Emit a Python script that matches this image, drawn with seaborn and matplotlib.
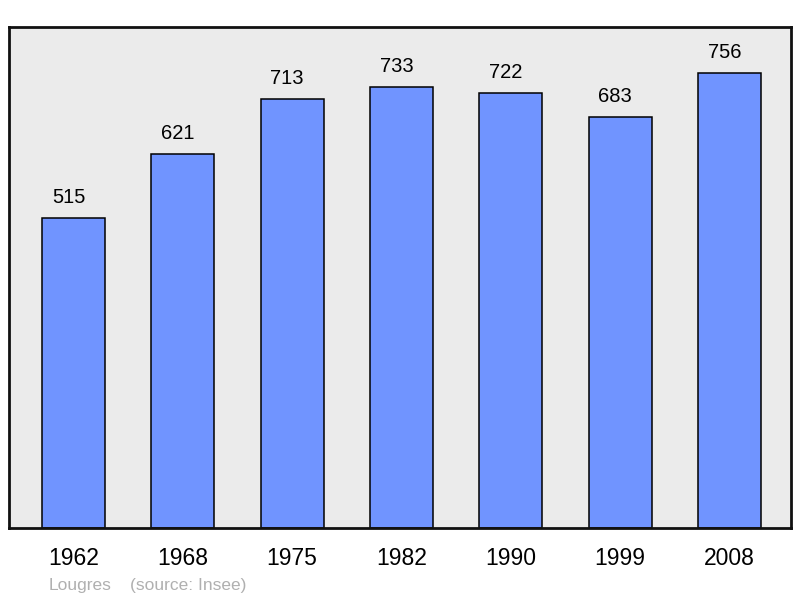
import matplotlib
matplotlib.use("Agg")
import matplotlib.pyplot as plt
import seaborn as sns
import pandas as pd

years = ["1962", "1968", "1975", "1982", "1990", "1999", "2008"]
population = [515, 621, 713, 733, 722, 683, 756]

sns.set_theme(style="white")
plt.rcParams["font.family"] = ["Liberation Sans", "DejaVu Sans"]

df = pd.DataFrame({"year": years, "pop": population})

fig = plt.figure(figsize=(8, 5.98), dpi=100)
ax = fig.add_axes([9/800, 70/598, 782/800, 501/598])
ax.set_facecolor("#ebebeb")

sns.barplot(data=df, x="year", y="pop", ax=ax, color="#7094ff", saturation=1,
            width=0.576, edgecolor="black", linewidth=1.1)

for i, v in enumerate(population):
    ax.annotate(str(v), (i, v), xytext=(-3.6, 10.8), textcoords="offset points",
                ha="center", va="baseline", fontsize=14.5, color="black")

ax.set_xlim(-0.59, 6.5625)
ax.set_ylim(0, 832)
ax.set_xlabel("")
ax.set_ylabel("")
ax.set_yticks([])
ax.tick_params(axis="x", length=0, pad=14, labelsize=16.5, colors="black")
for lbl in ax.get_xticklabels():
    lbl.set_x(lbl.get_position()[0])
for s in ax.spines.values():
    s.set_visible(True)
    s.set_color("#111111")
    s.set_linewidth(2)

fig.text(49/800, 1 - 590/598, "Lougres", fontsize=12.5, color="#b0b0b0", ha="left", va="baseline")
fig.text(130/800, 1 - 590/598, "(source: Insee)", fontsize=12.5, color="#b0b0b0", ha="left", va="baseline")

fig.savefig("out.png", dpi=100)
